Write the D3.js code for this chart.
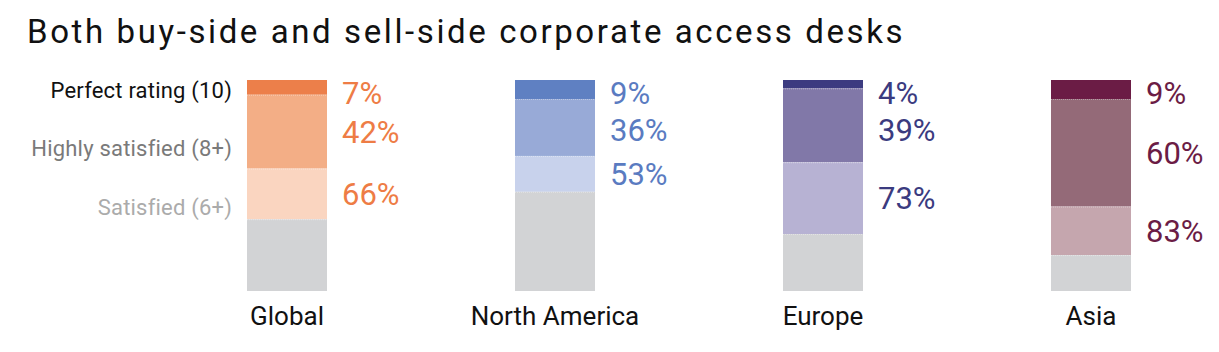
<!DOCTYPE html>
<html>
<head>
<meta charset="utf-8">
<script src="https://cdn.jsdelivr.net/npm/d3@7"></script>
<style>
  body { margin: 0; background: #fff; }
  text { font-family: Roboto, "Noto Sans", sans-serif; }
</style>
</head>
<body>
<svg id="chart" width="1219" height="352"></svg>
<script>
const title = 'Both buy-side and sell-side corporate access desks';
const regions = ['Global', 'North America', 'Europe', 'Asia'];
const tiers = ['Perfect rating (10)', 'Highly satisfied (8+)', 'Satisfied (6+)'];
// cumulative shares, read top-down
const perfect = [7, 9, 4, 9];
const highly = [42, 36, 39, 60];
const satisfied = [66, 53, 73, 83];

// palette per region: [perfect, highly, satisfied, text]
const palettes = [
  ['#ec7f4a', '#f3ae86', '#fad5c0', '#ee7c45'],
  ['#5f80c2', '#98aad7', '#c8d2ec', '#5a7bc1'],
  ['#3c3b80', '#8178a8', '#b7b2d3', '#3b3b7f'],
  ['#6b1c45', '#946a78', '#c5a6ae', '#6b1c45']
];
const restColor = '#d2d3d5';
const tierColors = ['#111', '#7a7a7a', '#ababab'];

const svg = d3.select('#chart');
const barW = 80;
const x = d3.scalePoint().domain(regions).range([287, 1091]);
const y = d3.scaleLinear().domain([0, 100]).range([80, 291]);

svg.append('text')
  .attr('x', 27).attr('y', 43)
  .attr('font-size', 33).attr('fill', '#111')
  .attr('letter-spacing', 2.6)
  .text(title);

// legend on the left of the first bar
svg.selectAll('text.tier').data(tiers).enter().append('text')
  .attr('class', 'tier')
  .attr('x', 232)
  .attr('y', (d, i) => 98 + i * 58.3)
  .attr('text-anchor', 'end')
  .attr('font-size', 22)
  .attr('letter-spacing', 0.2)
  .attr('fill', (d, i) => tierColors[i])
  .text(d => d);

regions.forEach((r, ri) => {
  const cuts = [0, perfect[ri], highly[ri], satisfied[ri], 100];
  const pal = palettes[ri];
  const g = svg.append('g');
  const segs = d3.range(4).map(i => ({ from: cuts[i], to: cuts[i + 1], fill: i < 3 ? pal[i] : restColor }));
  g.selectAll('rect').data(segs).enter().append('rect')
    .attr('x', x(r) - barW / 2)
    .attr('y', d => y(d.from))
    .attr('width', barW)
    .attr('height', d => y(d.to) - y(d.from))
    .attr('fill', d => d.fill);
  g.selectAll('line.sep').data(cuts.slice(1, 4)).enter().append('line')
    .attr('class', 'sep')
    .attr('x1', x(r) - barW / 2).attr('x2', x(r) + barW / 2)
    .attr('y1', d => y(d) + 0.5).attr('y2', d => y(d) + 0.5)
    .attr('stroke', '#fff').attr('stroke-opacity', 0.35)
    .attr('stroke-dasharray', '1,1');

  // value labels: centred on segment, nudged down to avoid overlap
  let prev = -Infinity;
  const labels = [perfect[ri], highly[ri], satisfied[ri]].map((v, i) => {
    let c = (y(cuts[i]) + y(cuts[i + 1])) / 2;
    if (i === 0) c = Math.max(c, y(0) + 13);
    c = Math.max(c, prev + 37);
    prev = c;
    return { v, c };
  });
  g.selectAll('text.val').data(labels).enter().append('text')
    .attr('class', 'val')
    .attr('x', x(r) + barW / 2 + 15)
    .attr('y', d => d.c + 11)
    .attr('font-size', 31)
    .attr('fill', pal[3])
    .text(d => d.v + '%');

  g.append('text')
    .attr('x', x(r)).attr('y', 325)
    .attr('text-anchor', 'middle')
    .attr('font-size', 26).attr('fill', '#111')
    .text(r);
});
</script>
</body>
</html>
